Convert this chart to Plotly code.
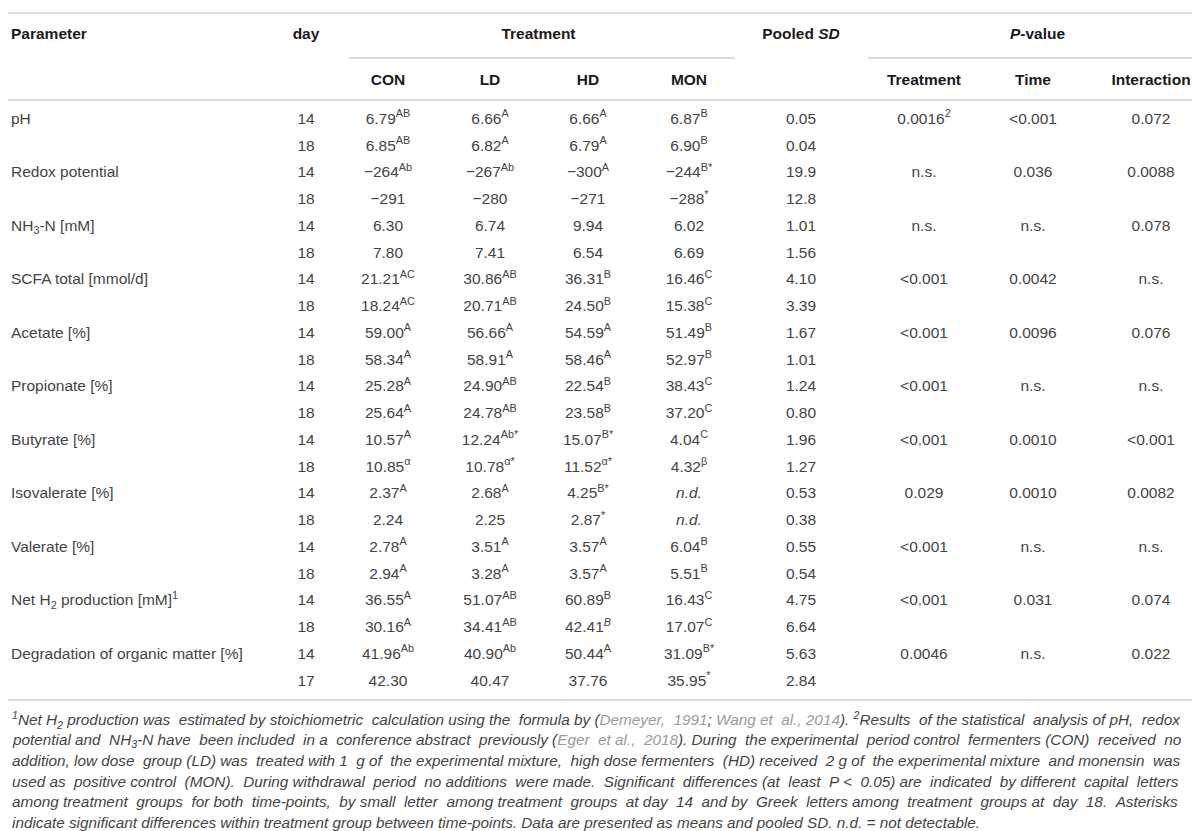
import re
import plotly.graph_objects as go

# Table content
parameters = ["pH", "Redox potential", "NH<sub>3</sub>-N [mM]", "SCFA total [mmol/d]", "Acetate [%]",
              "Propionate [%]", "Butyrate [%]", "Isovalerate [%]", "Valerate [%]",
              "Net H<sub>2</sub> production [mM]<sup>1</sup>", "Degradation of organic matter [%]"]
days = ["14", "18"] * 10 + ["14", "17"]

con = ["6.79", "6.85", "−264", "−291", "6.30", "7.80", "21.21", "18.24", "59.00", "58.34", "25.28",
       "25.64", "10.57", "10.85", "2.37", "2.24", "2.78", "2.94", "36.55", "30.16", "41.96", "42.30"]
con_sup = ["AB", "AB", "Ab", "", "", "", "AC", "AC", "A", "A", "A",
           "A", "A", "α", "A", "", "A", "A", "A", "A", "Ab", ""]
ld = ["6.66", "6.82", "−267", "−280", "6.74", "7.41", "30.86", "20.71", "56.66", "58.91", "24.90",
      "24.78", "12.24", "10.78", "2.68", "2.25", "3.51", "3.28", "51.07", "34.41", "40.90", "40.47"]
ld_sup = ["A", "A", "Ab", "", "", "", "AB", "AB", "A", "A", "AB",
          "AB", "Ab*", "α*", "A", "", "A", "A", "AB", "AB", "Ab", ""]
hd = ["6.66", "6.79", "−300", "−271", "9.94", "6.54", "36.31", "24.50", "54.59", "58.46", "22.54",
      "23.58", "15.07", "11.52", "4.25", "2.87", "3.57", "3.57", "60.89", "42.41", "50.44", "37.76"]
hd_sup = ["A", "A", "A", "", "", "", "B", "B", "A", "A", "B",
          "B", "B*", "α*", "B*", "*", "A", "A", "B", "<i>B</i>", "A", ""]
mon = ["6.87", "6.90", "−244", "−288", "6.02", "6.69", "16.46", "15.38", "51.49", "52.97", "38.43",
       "37.20", "4.04", "4.32", "<i>n.d.</i>", "<i>n.d.</i>", "6.04", "5.51", "16.43", "17.07", "31.09", "35.95"]
mon_sup = ["B", "B", "B*", "*", "", "", "C", "C", "B", "B", "C",
           "C", "C", "β", "", "", "B", "B", "C", "C", "B*", "*"]
pooled_sd = ["0.05", "0.04", "19.9", "12.8", "1.01", "1.56", "4.10", "3.39", "1.67", "1.01", "1.24",
             "0.80", "1.96", "1.27", "0.53", "0.38", "0.55", "0.54", "4.75", "6.64", "5.63", "2.84"]
p_treatment = ["0.0016<sup>2</sup>", "n.s.", "n.s.", "&lt;0.001", "&lt;0.001", "&lt;0.001", "&lt;0.001",
               "0.029", "&lt;0.001", "&lt;0.001", "0.0046"]
p_time = ["&lt;0.001", "0.036", "n.s.", "0.0042", "0.0096", "n.s.", "0.0010", "0.0010", "n.s.", "0.031", "n.s."]
p_interaction = ["0.072", "0.0088", "0.078", "n.s.", "0.076", "n.s.", "&lt;0.001", "0.0082", "n.s.", "0.074", "0.022"]

cite = "<span style='color:#9a9a9a'>%s</span>"
footnote = [
    "<sup>1</sup>Net H<sub>2</sub> production was estimated by stoichiometric calculation using the formula by ("
    + cite % "Demeyer, 1991" + "; " + cite % "Wang et al., 2014"
    + "). <sup>2</sup>Results of the statistical analysis of pH, redox",
    "potential and NH<sub>3</sub>-N have been included in a conference abstract previously ("
    + cite % "Eger et al., 2018" + "). During the experimental period control fermenters (CON) received no",
    "addition, low dose group (LD) was treated with 1 g of the experimental mixture, high dose fermenters (HD) "
    "received 2 g of the experimental mixture and monensin was",
    "used as positive control (MON). During withdrawal period no additions were made. Significant differences "
    "(at least P &lt; 0.05) are indicated by different capital letters",
    "among treatment groups for both time-points, by small letter among treatment groups at day 14 and by Greek "
    "letters among treatment groups at day 18. Asterisks",
    "indicate significant differences within treatment group between time-points. Data are presented as means "
    "and pooled SD. n.d. = not detectable.",
]

# layout constants (pixel-like axis units)
W, H = 1200, 831
FONT = "Liberation Sans"
TXT = "#444444"
HEAD = "#1a1a1a"
LINE = "#d2d2d2"
SIZE = 15.5
NOTE_SIZE = 15.3
Y0, ROW_H = 112, 26.75
HEAD1, HEAD2 = 27, 73
col_x = {"param": 3, "day": 298, "con": 380, "ld": 482, "hd": 580, "mon": 681,
         "sd": 793, "pt": 916, "ptime": 1025, "pint": 1143}

rows_y = [Y0 + i * ROW_H for i in range(len(days))]
pair_y = rows_y[::2]

# rough Arial / Liberation Sans advance widths (per 1000 em), used to justify the footnote
_groups = {222: "ijl", 278: " .,;:ftI[]!/", 333: "()-r", 500: "cksvxyzJ",
           556: "abdeghnopqu0123456789L", 584: "<=", 611: "FTZ", 667: "ABEKPSVXY",
           722: "CDHNRUw", 778: "GOQ", 833: "mM", 889: "%", 944: "W"}
ADV = {ch: w for w, chars in _groups.items() for ch in chars}


def text_width(s, size):
    w, scale = 0.0, 1.0
    for tok in re.split(r"(<[^>]+>)", s):
        if tok.startswith("<"):
            if tok in ("<sup>", "<sub>"):
                scale = 0.7
            elif tok in ("</sup>", "</sub>"):
                scale = 1.0
            continue
        for ch in tok.replace("&lt;", "<"):
            w += ADV.get(ch, 556) * scale
    return w * size / 1000


def justify(s, width, size):
    parts = re.split(r"(<[^>]+>)", s)
    gaps = sum(p.count(" ") for p in parts if not p.startswith("<"))
    extra = max(0, round((width - text_width(s, size)) / (278 * size / 1000)))
    out, k = [], 0
    for p in parts:
        if p.startswith("<"):
            out.append(p)
            continue
        seg = ""
        for ch in p:
            if ch == " ":
                n = (k + 1) * extra // gaps - k * extra // gaps
                seg += " " + "\u00a0" * n
                k += 1
            else:
                seg += ch
        out.append(seg)
    return "".join(out)


def with_sup(vals, sups):
    return [v + ("<sup>%s</sup>" % s if s else "") for v, s in zip(vals, sups)]


fig = go.Figure()


def add_col(x, ys, texts, pos="middle center", bold=False, size=SIZE, color=TXT):
    fig.add_trace(go.Scatter(
        x=[x] * len(ys), y=ys, text=[("<b>%s</b>" % t) if bold else t for t in texts],
        mode="text", textposition=pos, cliponaxis=False, hoverinfo="skip", showlegend=False,
        textfont=dict(family=FONT, size=size, color=color)))


# header
add_col(col_x["param"], [HEAD1], ["Parameter"], pos="middle right", bold=True, color=HEAD)
add_col(col_x["day"], [HEAD1], ["day"], bold=True, color=HEAD)
add_col((col_x["con"] + col_x["mon"]) / 2, [HEAD1], ["Treatment"], bold=True, color=HEAD)
add_col(col_x["sd"], [HEAD1], ["Pooled <i>SD</i>"], bold=True, color=HEAD)
add_col((col_x["pt"] + col_x["pint"]) / 2, [HEAD1], ["<i>P</i>-value"], bold=True, color=HEAD)
for key, name in [("con", "CON"), ("ld", "LD"), ("hd", "HD"), ("mon", "MON"),
                  ("pt", "Treatment"), ("ptime", "Time"), ("pint", "Interaction")]:
    add_col(col_x[key], [HEAD2], [name], bold=True, color=HEAD)

# body
add_col(col_x["param"], pair_y, parameters, pos="middle right")
add_col(col_x["day"], rows_y, days)
add_col(col_x["con"], rows_y, with_sup(con, con_sup))
add_col(col_x["ld"], rows_y, with_sup(ld, ld_sup))
add_col(col_x["hd"], rows_y, with_sup(hd, hd_sup))
add_col(col_x["mon"], rows_y, with_sup(mon, mon_sup))
add_col(col_x["sd"], rows_y, pooled_sd)
add_col(col_x["pt"], pair_y, p_treatment)
add_col(col_x["ptime"], pair_y, p_time)
add_col(col_x["pint"], pair_y, p_interaction)

# rules
bottom = rows_y[-1] + 18
rules = [(0, 1195, 5), (341, 727, 50), (860, 1195, 50), (0, 1195, 92), (0, 1195, bottom)]
for x0, x1, y in rules:
    fig.add_shape(type="line", xref="x", yref="y", x0=x0, x1=x1, y0=y, y1=y,
                  line=dict(color=LINE, width=1.5))

# footnote (all lines but the last are justified to the table width)
for i, line in enumerate(footnote):
    txt = justify(line, 1168, NOTE_SIZE) if i < len(footnote) - 1 else line
    fig.add_annotation(x=2, y=bottom + 20 + i * 20.5, xref="x", yref="y", xanchor="left",
                       yanchor="middle", showarrow=False, text="<i>%s</i>" % txt,
                       font=dict(family=FONT, size=NOTE_SIZE, color=TXT))

fig.update_layout(
    width=W, height=H, margin=dict(l=0, r=0, t=0, b=0),
    paper_bgcolor="white", plot_bgcolor="white",
    xaxis=dict(range=[0, W], visible=False, fixedrange=True),
    yaxis=dict(range=[H, 0], visible=False, fixedrange=True),
)

fig.write_html("out.html")
